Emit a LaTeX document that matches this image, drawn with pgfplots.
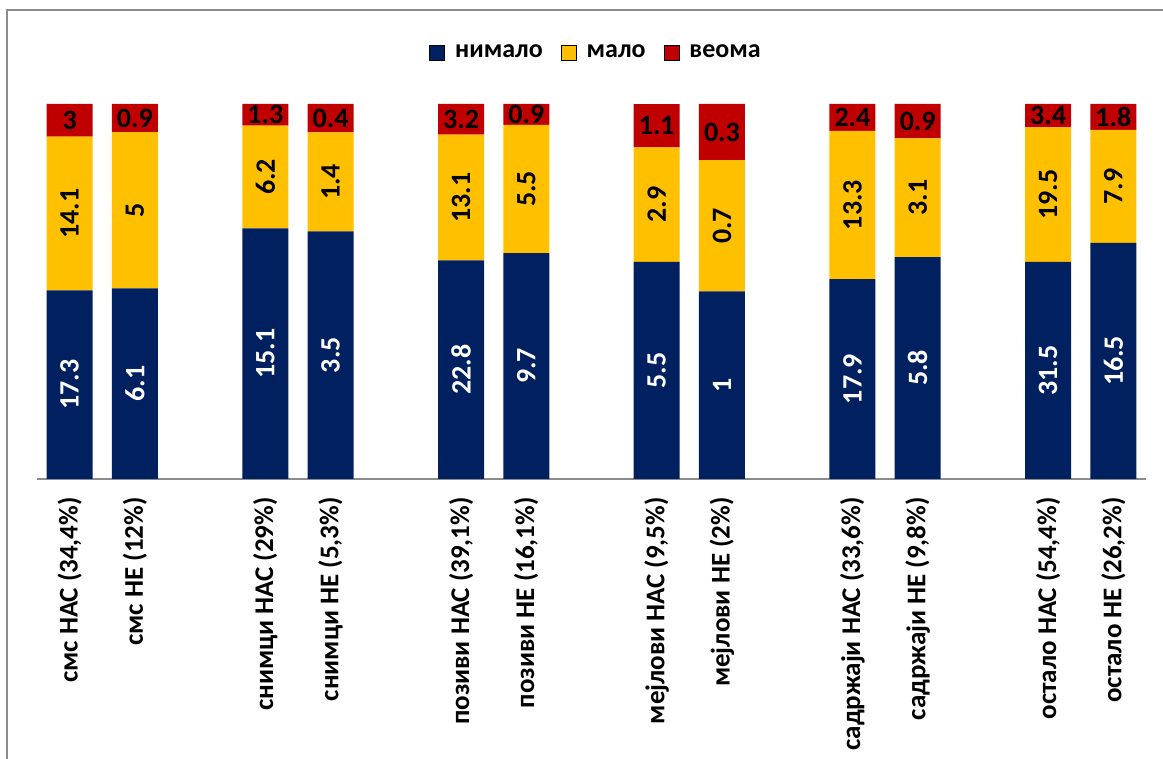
\documentclass[border=0pt]{standalone}
\usepackage{pgfplots}
\pgfplotsset{compat=1.18}
\usepackage{pgfplotstable}
\usepackage{fontspec}
\setmainfont{Carlito}
\definecolor{cnavy}{HTML}{002060}
\definecolor{cyel}{HTML}{FFC000}
\definecolor{cred}{HTML}{C00000}
\definecolor{cgray}{HTML}{8C8C8C}

\pgfplotstableread{
x n m v
0 17.3 14.1 3
1 6.1 5 0.9
3 15.1 6.2 1.3
4 3.5 1.4 0.4
6 22.8 13.1 3.2
7 9.7 5.5 0.9
9 5.5 2.9 1.1
10 1 0.7 0.3
12 17.9 13.3 2.4
13 5.8 3.1 0.9
15 31.5 19.5 3.4
16 16.5 7.9 1.8
}\data

\begin{document}
\begin{tikzpicture}[x=1pt,y=1pt]
\useasboundingbox (0,0) rectangle (581.5,379.5);
\draw[cgray, line width=1pt] (3.5,0) -- (3.5,374.5) -- (581.5,374.5);
\pgfplotsset{base/.style={width=554.5pt, height=187.5pt, scale only axis,
  at={(18.5pt,140pt)}, anchor=south west,
  xmin=-0.5, xmax=16.5, ymin=0, ymax=100,
  font=\fontsize{13}{15}\selectfont\bfseries}}
\begin{axis}[base, ybar stacked, bar width=23pt,
  axis x line*=bottom, axis y line=none,
  x axis line style={cgray, line width=1pt},
  xtick={0,1,3,4,6,7,9,10,12,13,15,16},
  xticklabels={{смс НАС (34,4\%)},{смс НЕ (12\%)},{снимци НАС (29\%)},{снимци НЕ (5,3\%)},{позиви НАС (39,1\%)},{позиви НЕ (16,1\%)},{мејлови НАС (9,5\%)},{мејлови НЕ (2\%)},{садржаји НАС (33,6\%)},{садржаји НЕ (9,8\%)},{остало НАС (54,4\%)},{остало НЕ (26,2\%)}},
  xticklabel style={rotate=90, anchor=east, inner sep=0pt, font=\fontsize{13.5}{15}\selectfont\bfseries},
  xticklabel shift=9pt,
  major tick length=0pt,
  legend style={at={(axis description cs:0.505,1.137)}, anchor=center, draw=none,
    legend columns=3, font=\fontsize{13}{15}\selectfont\bfseries,
    /tikz/every odd column/.append style={column sep=3pt},
    /tikz/every even column/.append style={column sep=7pt}},
  legend image code/.code={\draw[#1] (0pt,-3.75pt) rectangle (7.5pt,3.75pt);},
]
\addplot[fill=cnavy, draw=none] table[x=x, y expr={\thisrow{n}/(\thisrow{n}+\thisrow{m}+\thisrow{v})*100}] {\data};
\addplot[fill=cyel, draw=none] table[x=x, y expr={\thisrow{m}/(\thisrow{n}+\thisrow{m}+\thisrow{v})*100}] {\data};
\addplot[fill=cred, draw=none] table[x=x, y expr={\thisrow{v}/(\thisrow{n}+\thisrow{m}+\thisrow{v})*100}] {\data};
\legend{нимало, мало, веома}
\end{axis}
\begin{axis}[base, hide axis, clip=false, nodes near coords, point meta=explicit symbolic]
\addplot[draw=none, every node near coord/.append style={white, rotate=90, anchor=center, font=\fontsize{14}{15}\selectfont\bfseries}]
  table[x=x, y expr={\thisrow{n}/(\thisrow{n}+\thisrow{m}+\thisrow{v})*50}, meta=n] {\data};
\addplot[draw=none, every node near coord/.append style={black, rotate=90, anchor=center, font=\fontsize{14}{15}\selectfont\bfseries}]
  table[x=x, y expr={(\thisrow{n}+0.5*\thisrow{m})/(\thisrow{n}+\thisrow{m}+\thisrow{v})*100}, meta=m] {\data};
\addplot[draw=none, every node near coord/.append style={black, anchor=center, font=\fontsize{14}{15}\selectfont\bfseries}]
  table[x=x, y expr={(\thisrow{n}+\thisrow{m}+0.5*\thisrow{v})/(\thisrow{n}+\thisrow{m}+\thisrow{v})*100}, meta=v] {\data};
\end{axis}
\end{tikzpicture}
\end{document}
